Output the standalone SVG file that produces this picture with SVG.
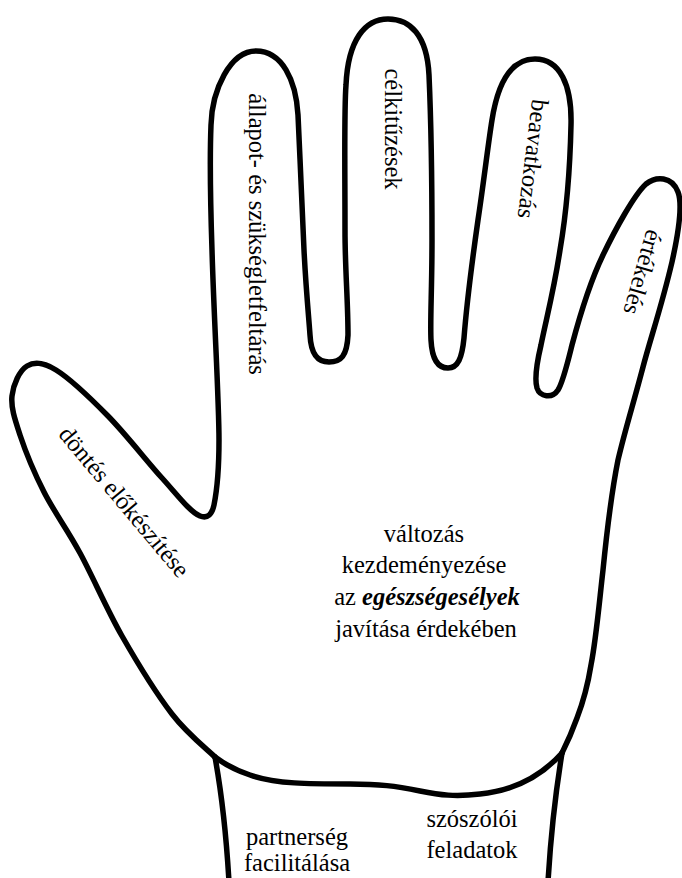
<svg xmlns="http://www.w3.org/2000/svg" width="682" height="878" viewBox="0 0 682 878">
  <style>
    .outline { fill: none; stroke: #000; stroke-width: 5.5; stroke-linejoin: round; stroke-linecap: round; }
    .lbl { font-family: "Liberation Serif", "Times New Roman", serif; font-size: 24.5px; fill: #000; }
    .mid { text-anchor: middle; }
    .em { font-weight: bold; font-style: italic; }
  </style>
  <rect width="682" height="878" fill="#fff"/>

  <!-- hand contour: thumb, four fingers and palm edge down to the wrist crease -->
  <g id="hand">
    <path class="outline" d="M 215,757
      C 207.8,749.8 187.5,734.2 172,714
      C 156.5,693.8 137.3,662.8 122,636
      C 106.7,609.2 93,577 80,553
      C 67,529 54,511.7 44,492
      C 34,472.3 25.3,451 20,435
      C 14.7,419 10.8,407.5 12,396
      C 13.2,384.5 19.7,370.3 27,366
      C 34.3,361.7 42.5,361.7 56,370
      C 69.5,378.3 90.3,398 108,416
      C 125.7,434 147,461.5 162,478
      C 177,494.5 190,512 200,516
      C 208,519 212,514 214,505
      C 217,490 219,470 219,440
      C 219,400 214,320 212,250
      C 210,190 210,150 211,125
      C 212,90 230,51 256,51
      C 282,51 296,80 298,115
      C 300,160 302,200 304,250
      C 306,290 309,320 310,335
      C 311,355 318,362 329,362
      C 341,362 347,356 348,335
      C 348,300 345,270 345,230
      C 345,170 344,110 346,85
      C 348,40 365,19 388,19
      C 410,19 427,35 429,75
      C 431,120 432,180 432,240
      C 432,290 430,320 431,340
      C 432,360 438,368 448,368
      C 458,368 462,358 464,338
      C 467,300 473,255 478,220
      C 484,180 488,145 492,120
      C 498,82 512,59 535,59
      C 560,59 572,85 571,125
      C 570,170 566,215 560,250
      C 554,290 546,320 541,345
      C 537,362 534,378 537,388
      C 540,397 552,399 558,390
      C 563,382 567,365 572,345
      C 580,315 590,282 603,255
      C 615,230 634,195 646,184
      C 656,176 672,176 678,192
      C 683,205 678,235 672,262
      C 662,305 650,340 643,367
      C 633,405 625,430 618,460
      C 610,500 606,540 603,570
      C 599,605 596,640 591,665
      C 587,690 582,705 577,718
      C 572,732 567,743 562,753"/>
  </g>

  <!-- wrist: crease line and the two forearm edges -->
  <g id="wrist">
    <path class="outline" d="M 562,753 C 545,772 520,790 480,794 C 455,797 440,795 420,791 C 395,786 380,784 350,784 C 310,784 275,784 250,775 C 235,770 223,763 215,757"/>
    <path class="outline" d="M 215,757 C 221,790 226,830 229,882"/>
    <path class="outline" d="M 562,753 C 556,790 551,830 548,882"/>
  </g>

  <!-- finger labels, written along each finger -->
  <g id="finger-labels" class="lbl">
    <text id="thumb-label" class="mid" transform="translate(118,507) rotate(50)">döntés előkészítése</text>
    <text id="index-label" class="mid" transform="translate(249,234) rotate(90)">állapot- és szükségletfeltárás</text>
    <text id="middle-label" class="mid" transform="translate(385,129) rotate(90)">célkitűzések</text>
    <text id="ring-label" class="mid" transform="translate(525,158) rotate(97)">beavatkozás</text>
    <text id="little-label" class="mid" transform="translate(635,270) rotate(106)">értékelés</text>
  </g>

  <!-- palm label -->
  <g id="palm-label" class="lbl mid">
    <text x="424" y="542">változás</text>
    <text x="424" y="573">kezdeményezése</text>
    <text x="427" y="605">az <tspan class="em">egészségesélyek</tspan></text>
    <text x="426" y="637">javítása érdekében</text>
  </g>

  <!-- wrist labels -->
  <g id="wrist-labels" class="lbl mid">
    <text x="297" y="845">partnerség</text>
    <text x="297" y="871">facilitálása</text>
    <text x="472" y="827">szószólói</text>
    <text x="472" y="858">feladatok</text>
  </g>
</svg>
